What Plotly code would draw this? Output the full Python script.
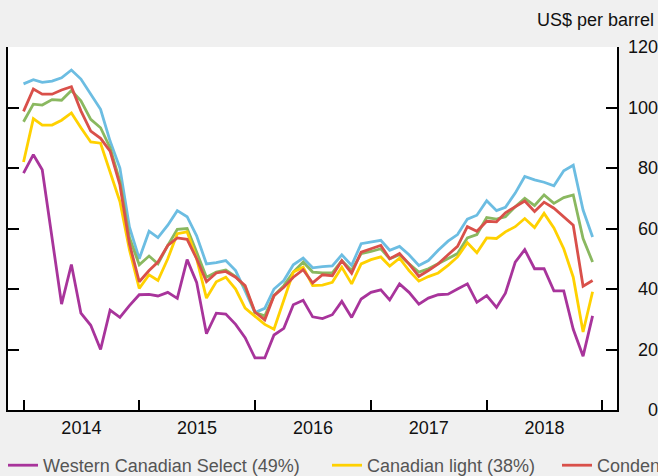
import pandas as pd
import plotly.graph_objects as go

# Monthly observations, Jan 2014 - Dec 2018
dates = pd.date_range("2014-01-01", periods=60, freq="MS")

wcs = [78.3, 84.4, 79.4, 57.0, 35.0, 48.1, 32.0, 28.0, 20.0, 33.0,
       30.6, 34.5, 38.1, 38.2, 37.7, 38.9, 36.9, 49.7, 42.2, 25.2,
       32.0, 31.7, 28.3, 23.9, 17.2, 17.2, 24.8, 27.0, 34.8, 36.3,
       30.8, 30.2, 31.5, 35.9, 30.6, 36.7, 38.9, 39.7, 36.4, 41.7,
       38.9, 35.0, 37.0, 38.1, 38.3, 40.0, 41.7, 35.6, 37.8, 33.9,
       38.6, 48.9, 53.0, 46.7, 46.7, 39.4, 39.4, 26.7, 17.8, 31.1]

canadian_light = [82.0, 96.3, 94.2, 94.2, 95.8, 98.2, 93.3, 88.6, 88.2, 78.9,
                  68.9, 53.0, 40.2, 44.7, 42.8, 50.0, 58.3, 58.9, 50.0, 37.0,
                  42.4, 43.9, 40.0, 33.7, 31.1, 28.3, 26.7, 36.1, 45.6, 47.2,
                  41.1, 41.3, 42.2, 47.2, 41.7, 48.3, 49.7, 50.6, 47.6, 50.2,
                  46.1, 42.6, 44.1, 45.3, 47.8, 50.6, 55.3, 52.0, 56.9, 56.7,
                  58.9, 60.6, 63.3, 60.3, 65.0, 60.2, 53.3, 43.9, 25.8, 39.1]

condensate = [98.7, 106.1, 104.4, 104.4, 105.8, 106.9, 98.9, 92.2, 89.8, 85.6,
              74.4, 55.0, 42.4, 46.1, 48.9, 54.4, 56.9, 56.4, 50.0, 42.4,
              45.3, 45.8, 43.9, 41.1, 32.4, 29.8, 37.8, 40.6, 43.9, 46.4,
              42.0, 44.7, 44.4, 49.4, 45.2, 52.2, 53.3, 54.4, 50.0, 51.7,
              48.3, 44.2, 46.1, 48.3, 51.3, 54.1, 60.6, 59.1, 62.4, 62.2,
              65.2, 67.2, 69.1, 65.6, 68.7, 66.7, 63.9, 61.1, 40.9, 42.8]

synthetic = [95.3, 101.1, 100.8, 102.6, 102.4, 105.6, 102.2, 96.1, 93.3, 86.7,
             75.6, 57.0, 48.0, 50.9, 48.3, 54.4, 59.7, 60.0, 52.2, 43.9,
             45.6, 46.3, 44.1, 40.6, 32.2, 31.1, 37.8, 41.1, 45.6, 48.9,
             45.6, 45.3, 45.3, 49.4, 46.1, 51.7, 52.4, 53.3, 50.0, 51.3,
             48.3, 45.6, 46.7, 48.3, 50.0, 51.7, 56.9, 58.0, 63.6, 63.1,
             63.9, 67.2, 70.0, 67.6, 71.1, 68.3, 70.2, 71.1, 56.7, 48.9]

wti = [107.8, 109.2, 108.3, 108.7, 109.8, 112.4, 109.4, 104.4, 99.4, 88.9,
       80.0, 60.5, 50.0, 59.1, 57.0, 61.1, 65.9, 63.9, 57.6, 48.3,
       48.7, 49.4, 46.1, 39.4, 32.2, 33.6, 40.0, 42.8, 48.0, 50.2,
       47.0, 47.4, 47.6, 51.3, 47.8, 55.0, 55.6, 56.1, 52.8, 54.1,
       51.3, 47.8, 49.4, 52.8, 55.8, 58.0, 63.1, 64.4, 69.2, 65.9,
       67.0, 71.7, 77.2, 76.1, 75.3, 74.1, 79.1, 80.9, 66.1, 57.2]

y_ticks = [0, 20, 40, 60, 80, 100, 120]

FONT = "Liberation Sans, Arial, Helvetica, sans-serif"

fig = go.Figure()

series = [
    ("West Texas Intermediate", wti, "#6cbde2", None, None),
    ("Synthetic crude (9%)", synthetic, "#8ab860", None, None),
    ("Canadian light (38%)", canadian_light, "#ffd100", "legend2", None),
    ("Condensate (4%)", condensate, "#d9504a", "legend3", 56),
    ("Western Canadian Select (49%)", wcs, "#a8349b", "legend", None),
]
for name, vals, col, leg, lw in series:
    kw = {}
    if leg is None:
        kw["showlegend"] = False
    else:
        kw["legend"] = leg
        if lw is not None:
            kw["legendwidth"] = lw
    fig.add_trace(go.Scatter(x=dates, y=vals, name=name, mode="lines",
                             line=dict(color=col, width=2.8), **kw))

# invisible trace to carry the right-hand labels axis
fig.add_trace(go.Scatter(x=[dates[0]], y=[0], yaxis="y2", mode="markers",
                         marker=dict(opacity=0), showlegend=False, hoverinfo="skip"))

legend_common = dict(orientation="h", xref="container", yref="container",
                     xanchor="left", yanchor="top", y=1 - 447 / 476,
                     bgcolor="rgba(0,0,0,0)", borderwidth=0,
                     font=dict(family=FONT, size=18, color="#555555"))

fig.update_layout(
    width=658, height=476,
    margin=dict(l=8, r=0, t=47, b=66, autoexpand=False),
    paper_bgcolor="#f0f0f0",
    plot_bgcolor="white",
    font=dict(family=FONT, size=18, color="#111111"),
    xaxis=dict(domain=[0, 609 / 650],
               range=["2013-11-13", "2019-02-16"],
               showline=True, linecolor="black", linewidth=2,
               ticks="inside", ticklen=10, tickwidth=2, tickcolor="black",
               tick0="2014-01-01", dtick="M12", ticklabelmode="period",
               tickformat="%Y", showgrid=False, zeroline=False,
               tickfont=dict(family=FONT, size=18, color="#111111")),
    yaxis=dict(range=[0, 120], tickvals=y_ticks,
               showline=True, mirror="ticks", linecolor="black", linewidth=2,
               ticks="inside", ticklen=11, tickwidth=2, tickcolor="black",
               showticklabels=False, showgrid=False, zeroline=False),
    yaxis2=dict(range=[0, 120], tickvals=y_ticks, overlaying="y",
                anchor="free", position=1, side="left",
                showline=False, ticks="", showgrid=False, zeroline=False,
                tickfont=dict(family=FONT, size=18, color="#111111")),
    legend=dict(x=3 / 658, **legend_common),
    legend2=dict(x=327 / 658, **legend_common),
    legend3=dict(x=557 / 658, **legend_common),
    annotations=[dict(text="US$ per barrel", xref="paper", yref="paper",
                      x=1, y=(410 - 20) / 363, xanchor="right", yanchor="middle",
                      xshift=-2, showarrow=False,
                      font=dict(family=FONT, size=18, color="#111111"))],
    showlegend=True,
)

fig.write_html(
    "out.html",
    config={"displayModeBar": False},
    post_script="document.body.style.margin='0';document.body.style.overflow='hidden';",
)
